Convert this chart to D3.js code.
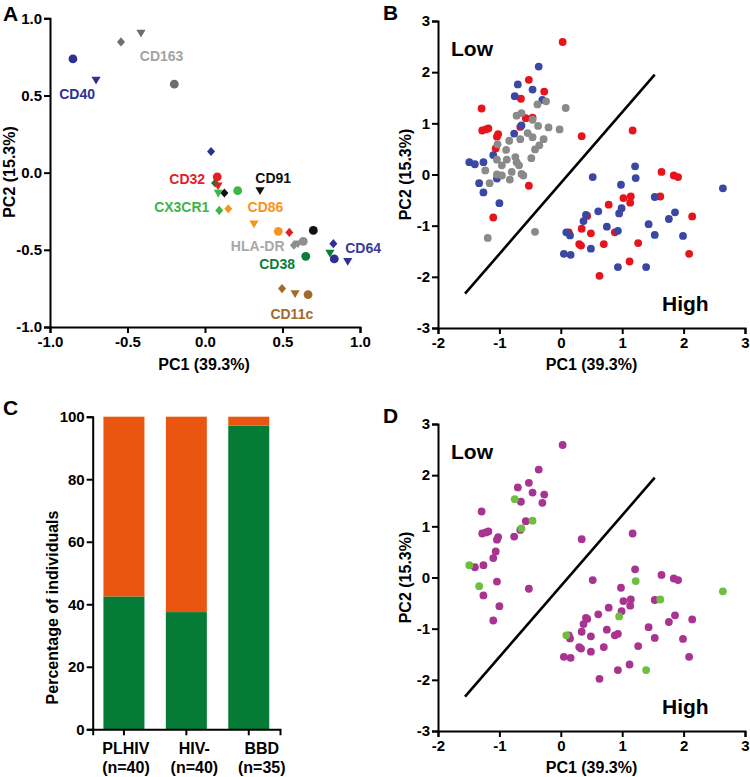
<!DOCTYPE html>
<html><head><meta charset="utf-8">
<script src="https://cdn.jsdelivr.net/npm/d3@7"></script>
<style>
body{margin:0;background:#fff;}
text{font-family:"Liberation Sans",Arial,Helvetica,sans-serif;font-weight:bold;}
</style></head><body>
<svg id="c" width="750" height="777" xmlns="http://www.w3.org/2000/svg"></svg>
<script>
// ---------- Panel A: loadings ----------
const markers      = ["CD40","CD163","CD32","CD91","CX3CR1","CD86","HLA-DR","CD38","CD64","CD11c"];
const markerColors = ["#2e3192","#6e6e6e","#e51d25","#111111","#3db54a","#f7941d","#8e8e8e","#0a7d3b","#2e3192","#a36a2b"];
const labelColors  = ["#2e3192","#a3a3a3","#e51d25","#111111","#3db54a","#f7941d","#a8a8a8","#0a7d3b","#383b9c","#a36a2b"];
const loadCircle   = [[-0.852,0.737],[-0.198,0.573],[0.079,-0.028],[0.699,-0.374],[0.211,-0.117],[0.473,-0.380],[0.634,-0.445],[0.650,-0.542],[0.834,-0.559],[0.665,-0.790]];
const loadTriangle = [[-0.703,0.601],[-0.413,0.905],[0.084,-0.085],[0.355,-0.115],[0.086,-0.132],[0.316,-0.331],[0.600,-0.460],[0.806,-0.520],[0.921,-0.574],[0.581,-0.783]];
const loadDiamond  = [[0.039,0.137],[-0.542,0.847],[0.544,-0.387],[0.125,-0.132],[0.092,-0.245],[0.150,-0.234],[0.574,-0.470],[0.065,-0.067],[0.828,-0.460],[0.497,-0.751]];
const labelPos     = [[-0.825,0.51],[-0.28,0.755],[-0.115,-0.04],[0.44,-0.035],[-0.15,-0.225],[0.39,-0.225],[0.34,-0.475],[0.465,-0.59],[1.02,-0.49],[0.56,-0.915]];
const aTicks = [-1.0,-0.5,0.0,0.5,1.0];

// ---------- Panel B / D: scores ----------
const plhiv = [[0.03,2.59],[-0.52,1.85],[-0.27,1.62],[-0.65,1.48],[-1.29,1.29],[-1.28,0.86],[-1.22,0.88],[-1.18,0.90],[-1.02,0.79],[-1.04,0.74],[-1.06,0.51],[-0.57,1.10],[-0.46,1.11],[-0.66,0.93],[0.34,0.75],[1.17,0.86],[1.64,0.05],[1.84,-0.02],[1.91,-0.05],[-0.52,-0.22],[-1.10,-0.84],[1.02,-0.46],[1.14,-0.43],[1.13,-0.55],[1.62,-0.43],[0.78,-0.59],[0.43,-0.81],[0.34,-1.06],[0.49,-1.15],[0.13,-1.13],[0.88,-1.13],[0.30,-1.36],[0.33,-1.39],[0.70,-1.36],[1.26,-1.34],[2.14,-0.82],[2.09,-1.55],[1.12,-1.70],[0.63,-1.98]];
const hivNeg = [[-0.36,2.11],[-0.70,1.76],[-0.46,1.66],[-0.75,1.53],[-0.30,1.46],[-0.64,0.96],[-0.76,0.80],[-1.10,0.38],[-1.49,0.24],[-1.40,0.20],[-1.26,0.24],[-1.04,-0.08],[-1.33,-0.17],[-1.26,-0.35],[-1.00,-0.56],[0.52,-0.05],[0.98,-0.20],[1.21,0.16],[1.22,-0.07],[2.64,-0.27],[1.53,-0.44],[0.61,-0.72],[0.41,-0.79],[0.37,-0.91],[0.99,-0.66],[0.95,-0.76],[0.75,-1.02],[0.93,-1.10],[0.09,-1.13],[0.15,-1.19],[0.49,-1.45],[0.05,-1.55],[0.16,-1.57],[0.93,-1.81],[1.39,-1.81],[1.43,-0.97],[1.53,-1.18],[1.76,-0.87],[1.86,-0.74],[1.99,-1.20]];
const bbd = [[0.08,1.30],[-0.24,1.43],[-0.38,1.37],[-0.72,1.15],[-0.64,1.20],[-0.46,1.07],[-0.37,0.95],[-0.20,0.92],[-0.02,0.88],[-0.54,0.81],[-0.46,0.73],[-0.66,0.69],[-0.84,0.66],[-0.28,0.69],[-0.35,0.57],[-0.42,0.49],[-1.03,0.59],[-0.89,0.48],[-0.48,0.32],[-1.04,0.29],[-0.88,0.29],[-0.74,0.34],[-0.96,0.18],[-0.72,0.24],[-0.68,0.18],[-1.23,0.08],[-0.80,0.05],[-1.04,0.00],[-0.96,-0.02],[-0.64,0.01],[-0.61,-0.02],[-0.83,-0.10],[-1.16,-0.17],[-1.19,-1.24],[-0.42,-1.12]];
const dGreen = [[-1.49,0.24],[-0.75,1.53],[-0.64,0.96],[-0.46,1.11],[-1.33,-0.17],[1.22,-0.07],[1.62,-0.43],[0.95,-0.76],[0.09,-1.13],[1.39,-1.81],[2.64,-0.27]];
const cutLine = [[-1.56,-2.33],[1.53,1.95]];
const pcXTicks = [-2,-1,0,1,2,3];
const pcYTicks = [-3,-2,-1,0,1,2,3];

// ---------- Panel C: bars ----------
const groups = ["PLHIV","HIV-","BBD"];
const groupN = ["(n=40)","(n=40)","(n=35)"];
const lowPct = [42.5,37.5,97.1];
const highPct = [57.5,62.5,2.9];
const cTicks = [0,20,40,60,80,100];

const svg = d3.select("#c");
const FONT_T = "15px";
const loc = d3.formatLocale({decimal:".",thousands:",",grouping:[3],currency:["",""],minus:"-"});
const fmt1 = loc.format(".1f");
const fmt0 = loc.format("d");

function styleAxis(g){
  g.attr("font-family",null).attr("font-size",null);
  g.selectAll(".domain").attr("stroke","#000").attr("stroke-width",2);
  g.selectAll(".tick line").attr("stroke","#000").attr("stroke-width",2);
  g.selectAll(".tick text").attr("fill","#000").style("font-size",FONT_T)
   .style("font-family","'Liberation Sans',Arial,sans-serif").style("font-weight","bold");
}
function panelLetter(t,x,y){
  svg.append("text").attr("x",x).attr("y",y).attr("font-size",21).attr("fill","#000").text(t);
}
function yTitle(t,x,y){
  svg.append("text").attr("transform",`translate(${x},${y}) rotate(-90)`)
    .attr("text-anchor","middle").attr("dominant-baseline","central").attr("font-size",16).text(t);
}
function xTitle(t,x,y){
  svg.append("text").attr("x",x).attr("y",y).attr("text-anchor","middle")
    .attr("dominant-baseline","central").attr("font-size",16).text(t);
}

// ===== Panel A =====
{
  const x = d3.scaleLinear().domain([-1,1]).range([50,360]);
  const y = d3.scaleLinear().domain([-1,1]).range([327,18.3]);
  svg.append("g").attr("transform","translate(0,327)")
    .call(d3.axisBottom(x).tickValues(aTicks).tickFormat(fmt1).tickSizeOuter(0).tickSize(6).tickPadding(3)).call(styleAxis);
  svg.append("g").attr("transform","translate(50,0)")
    .call(d3.axisLeft(y).tickValues(aTicks).tickFormat(fmt1).tickSizeOuter(0).tickSize(6).tickPadding(2)).call(styleAxis);
  const tri = "M-4.6,-3.2L4.6,-3.2L0,4.6Z";
  const dia = "M0,-4.6L4,0L0,4.6L-4,0Z";
  const g = svg.append("g");
  markers.forEach((m,i)=>{
    g.append("path").attr("d",dia).attr("fill",markerColors[i])
      .attr("transform",`translate(${x(loadDiamond[i][0])},${y(loadDiamond[i][1])})`);
  });
  markers.forEach((m,i)=>{
    g.append("path").attr("d",tri).attr("fill",markerColors[i])
      .attr("transform",`translate(${x(loadTriangle[i][0])},${y(loadTriangle[i][1])})`);
  });
  markers.forEach((m,i)=>{
    g.append("circle").attr("r",4.4).attr("fill",markerColors[i])
      .attr("cx",x(loadCircle[i][0])).attr("cy",y(loadCircle[i][1]));
  });
  markers.forEach((m,i)=>{
    svg.append("text").attr("x",x(labelPos[i][0])).attr("y",y(labelPos[i][1]))
      .attr("text-anchor","middle").attr("dominant-baseline","central")
      .attr("font-size",14).attr("fill",labelColors[i]).text(m);
  });
  panelLetter("A",3,21);
  yTitle("PC2 (15.3%)",9,172);
  xTitle("PC1 (39.3%)",204,364);
}

function scorePanel(top, letter, layers){
  const x = d3.scaleLinear().domain([-2,3]).range([438,745]);
  const y = d3.scaleLinear().domain([-3,3]).range([top+307,top]);
  svg.append("g").attr("transform",`translate(0,${top+307})`)
    .call(d3.axisBottom(x).tickValues(pcXTicks).tickFormat(fmt0).tickSizeOuter(0).tickSize(6).tickPadding(3)).call(styleAxis);
  svg.append("g").attr("transform","translate(438,0)")
    .call(d3.axisLeft(y).tickValues(pcYTicks).tickFormat(fmt0).tickSizeOuter(0).tickSize(6).tickPadding(2)).call(styleAxis);
  svg.append("path").datum(cutLine)
    .attr("d",d3.line().x(d=>x(d[0])).y(d=>y(d[1])))
    .attr("stroke","#000").attr("stroke-width",2.6).attr("fill","none");
  layers.forEach(L=>{
    svg.append("g").selectAll("circle").data(L.pts).join("circle")
      .attr("cx",d=>x(d[0])).attr("cy",d=>y(d[1])).attr("r",3.9).attr("fill",L.color);
  });
  svg.append("text").attr("x",451).attr("y",top+27).attr("dominant-baseline","central")
    .attr("font-size",21).text("Low");
  svg.append("text").attr("x",662).attr("y",top+282).attr("dominant-baseline","central")
    .attr("font-size",21).text("High");
  panelLetter(letter,383,top-1);
  yTitle("PC2 (15.3%)",405,top+153.5);
  xTitle("PC1 (39.3%)",591.5,top+343);
}

// ===== Panel B =====
scorePanel(21,"B",[
  {pts:plhiv,color:"#e8141c"},
  {pts:hivNeg,color:"#3a47a3"},
  {pts:bbd,color:"#8a8a8a"}
]);

// ===== Panel D =====
{
  const key = d=>d[0].toFixed(2)+","+d[1].toFixed(2);
  const gset = new Set(dGreen.map(key));
  const purple = plhiv.concat(hivNeg).filter(d=>!gset.has(key(d)));
  scorePanel(424,"D",[
    {pts:purple,color:"#a83391"},
    {pts:dGreen,color:"#6dbf40"}
  ]);
}

// ===== Panel C =====
{
  const x = d3.scaleBand().domain(groups).range([92.7,280]).paddingInner(0.343).paddingOuter(0.172);
  const y = d3.scaleLinear().domain([0,100]).range([729.3,416.7]);
  const g = svg.append("g");
  groups.forEach((c,i)=>{
    g.append("rect").attr("x",x(c)).attr("width",x.bandwidth())
      .attr("y",y(lowPct[i])).attr("height",y(0)-y(lowPct[i])).attr("fill","#067b36");
    g.append("rect").attr("x",x(c)).attr("width",x.bandwidth())
      .attr("y",y(lowPct[i]+highPct[i])).attr("height",y(lowPct[i])-y(lowPct[i]+highPct[i])).attr("fill","#ea560f");
  });
  svg.append("g").attr("transform","translate(0,729.3)")
    .call(d3.axisBottom(x).tickSizeOuter(0).tickSize(6).tickFormat("")).call(styleAxis);
  svg.append("g").attr("transform","translate(92.7,0)")
    .call(d3.axisLeft(y).tickValues(cTicks).tickFormat(fmt0).tickSizeOuter(0).tickSize(6).tickPadding(2)).call(styleAxis);
  const shift = [2,8,13];
  groups.forEach((c,i)=>{
    const cx = x(c)+x.bandwidth()/2+shift[i];
    svg.append("text").attr("x",cx).attr("y",748).attr("text-anchor","middle")
      .attr("dominant-baseline","central").attr("font-size",16).text(c);
    svg.append("text").attr("x",cx).attr("y",767).attr("text-anchor","middle")
      .attr("dominant-baseline","central").attr("font-size",16).text(groupN[i]);
  });
  panelLetter("C",3,415);
  yTitle("Percentage of individuals",52,607.5);
}
</script></body></html>
